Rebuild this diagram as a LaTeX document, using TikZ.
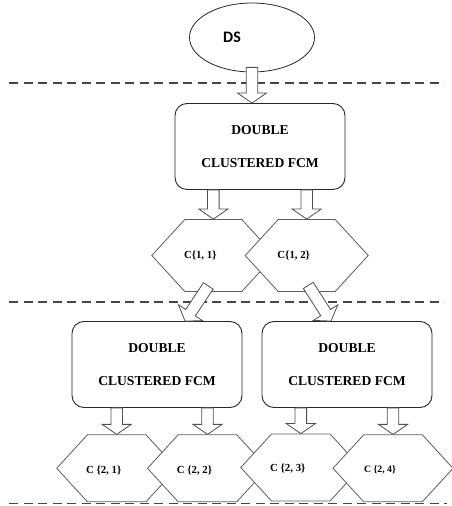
\documentclass[tikz,border=0pt]{standalone}
\usepackage{fontspec}
\setmainfont{Liberation Serif}
\newfontfamily\dsfont{Carlito}
\usetikzlibrary{calc,shapes.geometric,shapes.symbols}

% hollow block arrow between two named points
\newcommand{\flowto}[2]{%
  \coordinate (fh) at ($(#2)!10pt!(#1)$);
  \draw[arrowbody] ($(#1)!5.8pt!90:(#2)$) -- ($(fh)!5.8pt!90:(#2)$)
    -- ($(fh)!14.5pt!90:(#2)$) -- (#2) -- ($(fh)!14.5pt!-90:(#2)$)
    -- ($(fh)!5.8pt!-90:(#2)$) -- ($(#1)!5.8pt!-90:(#2)$) -- cycle;}

\begin{document}
\begin{tikzpicture}[x=1pt,y=1pt,
  source/.style={ellipse,draw=boxstroke,line width=0.8pt,fill=white,
    minimum width=125pt,minimum height=69pt,inner sep=0pt},
  fcm/.style={draw=boxstroke,line width=0.9pt,rounded corners=12pt,fill=white,
    minimum width=170pt,minimum height=86pt,align=center,
    font=\fontsize{13.6}{15.5}\selectfont\bfseries},
  cluster/.style={signal,signal to=west and east,signal pointer angle=95,
    draw=hexstroke,line width=0.8pt,fill=white,
    minimum width=123pt,minimum height=72pt,inner sep=0pt},
  lowcluster/.style={cluster,minimum width=120pt,minimum height=67pt},
  dstext/.style={font=\dsfont\fontsize{16}{19}\selectfont\bfseries,xshift=-20pt},
  ctext/.style={font=\fontsize{10.8}{12}\selectfont\bfseries,xshift=-13pt},
  arrowbody/.style={draw=arrowstroke,line width=0.8pt,fill=white,line join=miter},
  sep/.style={draw=dashstroke,line width=1.2pt,dash pattern=on 9pt off 5.5pt}]
  \definecolor{boxstroke}{RGB}{40,40,40}
  \definecolor{hexstroke}{RGB}{95,95,95}
  \definecolor{arrowstroke}{RGB}{80,80,80}
  \definecolor{dashstroke}{RGB}{70,70,70}
  \useasboundingbox (0,0) rectangle (451,506);

  \draw[sep] (9,423) -- (444,423);
  \draw[sep] (9,204) -- (444,204);
  \draw[sep] (9,2.5) -- (447,2.5);

  \node[source,label={[dstext]center:DS}] (ds) at (252,468.5) {};
  \node[fcm] (fcm1) at (260,359.5) {DOUBLE\\[17.5pt]CLUSTERED FCM};
  \node[fcm] (fcm21) at (157,141.5) {DOUBLE\\[17.5pt]CLUSTERED FCM};
  \node[fcm] (fcm22) at (347,141.5) {DOUBLE\\[17.5pt]CLUSTERED FCM};

  \node[cluster,label={[ctext]center:C\{1, 1\}}] (c11) at (213.3,250.5) {};
  \node[cluster,label={[ctext]center:C\{1, 2\}}] (c12) at (306.7,250.5) {};

  \coordinate (s0) at ([yshift=5pt]ds.south);
  \coordinate (t0) at (fcm1.north -| ds.south);
  \flowto{s0}{t0}
  \coordinate (s11) at (fcm1.south -| c11.north);
  \coordinate (s12) at (fcm1.south -| c12.north);
  \flowto{s11}{c11.north}
  \flowto{s12}{c12.north}

  \coordinate (d1s) at ([xshift=-5pt,yshift=6pt]c11.south);
  \coordinate (d1t) at ([xshift=28pt]fcm21.north);
  \coordinate (d2s) at ([xshift=1.6pt,yshift=6.5pt]c12.south);
  \coordinate (d2t) at ([xshift=-16pt]fcm22.north);
  \flowto{d1s}{d1t}
  \flowto{d2s}{d2t}

  \node[lowcluster,label={[ctext,yshift=-2pt]center:C \{2, 1\}}] (c21) at (116.7,37.7) {};
  \node[lowcluster,label={[ctext,yshift=-2pt]center:C \{2, 2\}}] (c22) at (207.5,37.7) {};
  \node[lowcluster,label={[ctext,yshift=-1pt]center:C \{2, 3\}}] (c23) at (300.8,38.5) {};
  \node[lowcluster,label={[ctext,yshift=-2pt,font=\fontsize{9.8}{11}\selectfont\bfseries]center:C \{2, 4\}}] (c24) at (393,37.7) {};

  \coordinate (s21) at (fcm21.south -| c21.north);
  \coordinate (s22) at (fcm21.south -| c22.north);
  \coordinate (s23) at (fcm22.south -| c23.north);
  \coordinate (s24) at (fcm22.south -| c24.north);
  \flowto{s21}{c21.north}
  \flowto{s22}{c22.north}
  \flowto{s23}{c23.north}
  \flowto{s24}{c24.north}
\end{tikzpicture}
\end{document}
